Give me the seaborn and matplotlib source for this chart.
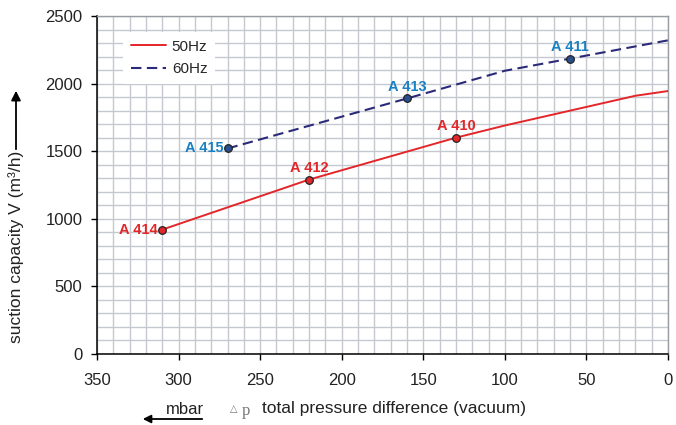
import matplotlib
matplotlib.use("Agg")
import matplotlib.pyplot as plt
from matplotlib.ticker import MultipleLocator
import seaborn as sns
import pandas as pd

# ---- data ----
p50 = [310, 220, 130, 100, 20, 0]
v50 = [920, 1290, 1600, 1690, 1910, 1945]
p60 = [270, 160, 100, 60, 0]
v60 = [1520, 1890, 2095, 2185, 2320]

models50 = ["A 414", "A 412", "A 410"]
mp50 = [310, 220, 130]
mv50 = [920, 1290, 1600]
models60 = ["A 415", "A 413", "A 411"]
mp60 = [270, 160, 60]
mv60 = [1520, 1890, 2185]

xticks = [350, 300, 250, 200, 150, 100, 50, 0]
yticks = [0, 500, 1000, 1500, 2000, 2500]

RED = "#e3262a"
NAVY = "#2b2a7a"
BLUE = "#1a80c4"

sns.set_theme(style="white")
plt.rcParams["font.family"] = ["Liberation Sans", "DejaVu Sans"]

fig = plt.figure(figsize=(6.76, 4.25), dpi=100)
ax = fig.add_axes([97 / 676, 71 / 425, 571 / 676, 338 / 425])

df50 = pd.DataFrame({"p": p50, "v": v50})
df60 = pd.DataFrame({"p": p60, "v": v60})
sns.lineplot(data=df50, x="p", y="v", ax=ax, color=RED, lw=1.4, label="50Hz",
             sort=False, zorder=3)
sns.lineplot(data=df60, x="p", y="v", ax=ax, color=NAVY, lw=1.5, label="60Hz",
             sort=False, dashes=False, zorder=3)
ax.lines[1].set_dashes((5, 2.6))

sns.scatterplot(x=mp50, y=mv50, ax=ax, color=RED, edgecolor="#222222", s=30,
                linewidth=0.9, zorder=4, legend=False)
sns.scatterplot(x=mp60, y=mv60, ax=ax, color="#2a4f8f", edgecolor="#222222", s=30,
                linewidth=0.9, zorder=4, legend=False)

# labels
def lab(txt, x, y, col, pos):
    if pos == "left":
        ax.annotate(txt, (x, y), xytext=(-3, 0), textcoords="offset points",
                    ha="right", va="center", color=col, fontsize=10.5, fontweight="bold")
    else:
        ax.annotate(txt, (x, y), xytext=(0, 3.5), textcoords="offset points",
                    ha="center", va="bottom", color=col, fontsize=10.5, fontweight="bold")

lab(models50[0], mp50[0], mv50[0], RED, "left")
lab(models50[1], mp50[1], mv50[1], RED, "top")
lab(models50[2], mp50[2], mv50[2], RED, "top")
lab(models60[0], mp60[0], mv60[0], BLUE, "left")
lab(models60[1], mp60[1], mv60[1], BLUE, "top")
lab(models60[2], mp60[2], mv60[2], BLUE, "top")

ax.set_xlim(350, 0)
ax.set_ylim(0, 2500)
ax.set_xticks(xticks)
ax.set_yticks(yticks)
ax.xaxis.set_minor_locator(MultipleLocator(10))
ax.yaxis.set_minor_locator(MultipleLocator(100))
ax.grid(which="both", color="#c6c8cf", lw=1.0)
ax.set_axisbelow(True)
ax.tick_params(axis="both", which="major", direction="out", length=4, width=1,
               color="black", labelsize=12, labelcolor="#222222")
ax.tick_params(axis="x", pad=9.5)
ax.tick_params(axis="y", pad=6.5)
ax.tick_params(which="minor", length=0)
ax.tick_params(axis="x", bottom=True)
ax.tick_params(axis="y", left=True)
for s in ["left", "bottom"]:
    ax.spines[s].set_color("black")
    ax.spines[s].set_linewidth(1.1)
for s in ["top", "right"]:
    ax.spines[s].set_color("#9a9ca3")
    ax.spines[s].set_linewidth(1.0)
ax.set_xlabel("")
ax.set_ylabel("")

leg = ax.legend(loc="upper left", bbox_to_anchor=(0.032, 0.975), frameon=True,
                fancybox=False, edgecolor="white", framealpha=1, fontsize=11,
                handlelength=2.3, borderpad=0.5, labelspacing=0.55, handletextpad=0.4)
leg.get_frame().set_linewidth(0)

# y label with arrow
fig.text(16 / 676, 1 - 247 / 425, "suction capacity V (m³/h)", rotation=90,
         ha="center", va="center", fontsize=12.5, color="#222222")
fig.add_artist(plt.Annotation("", xy=(16 / 676, 1 - 88 / 425), xytext=(16 / 676, 1 - 152 / 425),
                              xycoords="figure fraction", textcoords="figure fraction",
                              arrowprops=dict(arrowstyle="-|>", color="black", lw=1.3,
                                              mutation_scale=14)))

# x label
fig.text(230 / 676, 1 - 409 / 425, "△", ha="left", va="center", fontsize=7, color="#777777",
         family=["DejaVu Sans"])
fig.text(242 / 676, 1 - 411 / 425, "p", ha="left", va="center", fontsize=12, color="#777777",
         family=["Liberation Serif", "DejaVu Serif"])
fig.text(262 / 676, 1 - 409 / 425, "total pressure difference (vacuum)", ha="left",
         va="center", fontsize=12.5, color="#222222")
fig.text(204 / 676, 1 - 409 / 425, "mbar", ha="right", va="center", fontsize=12,
         color="#222222")
fig.add_artist(plt.Annotation("", xy=(140 / 676, 1 - 419 / 425), xytext=(205 / 676, 1 - 419 / 425),
                              xycoords="figure fraction", textcoords="figure fraction",
                              arrowprops=dict(arrowstyle="-|>", color="black", lw=1.3,
                                              mutation_scale=12)))

fig.savefig("out.png", dpi=100)
